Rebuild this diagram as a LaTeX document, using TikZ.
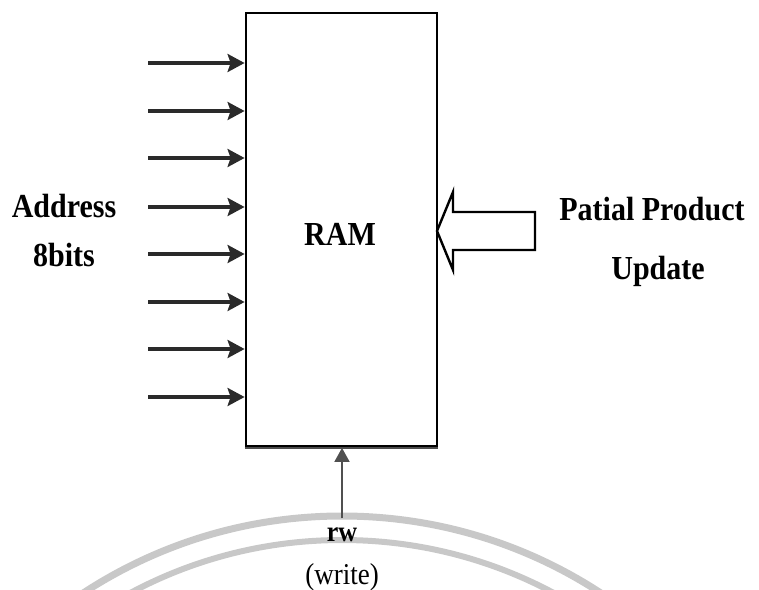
\documentclass[tikz,border=0pt]{standalone}
\usepackage{fontspec}
\setmainfont{Liberation Serif}
\usepackage{graphicx}
\usetikzlibrary{arrows.meta}
\definecolor{arrowgray}{HTML}{2A2A2A}
\definecolor{rwgray}{HTML}{505050}
\definecolor{watergray}{HTML}{C8C8C8}
\newcommand{\tallish}[1]{\scalebox{1}[1.12]{#1}}
\tikzset{
  addr/.style={line width=3.2pt, draw=arrowgray, -{Stealth[length=17pt,width=18pt,inset=3pt]}},
  rwarrow/.style={line width=1.8pt, draw=rwgray, -{Triangle[length=14pt,width=15pt]}},
  lbl/.style={font=\bfseries\fontsize{30}{34}\selectfont, inner sep=0pt},
  water/.style={draw=watergray, line width=7pt},
  hollow/.style={draw=black, line width=2.4pt, fill=white, line join=miter}
}
\begin{document}
\begin{tikzpicture}[x=1pt,y=-1pt]
\useasboundingbox (0,0) rectangle (759,589);
% watermark arcs
\begin{scope}
  \clip (0,0) rectangle (759,589);
  \draw[water] (342,989) circle[radius=473pt];
  \draw[water, line width=6pt] (342,989) circle[radius=449pt];
\end{scope}
% RAM box
\node[draw=black, line width=2.8pt, minimum width=191pt, minimum height=433.5pt, inner sep=0pt] (ram) at (341.5,229.75) {};
\draw[line width=2.8pt, draw=black!70] (ram.south west) -- (ram.south east);
\node[lbl, anchor=base] (ramlbl) at (340,245) {\tallish{RAM}};
% address arrows
\foreach \i/\yy in {1/63,2/111,3/158,4/207,5/254,6/302,7/349,8/397}{
  \coordinate (s\i) at (148,\yy);
  \draw[addr] (s\i) -- (s\i -| ram.west);
}
\node[lbl, anchor=base] (addr) at (64,217) {\tallish{Address}};
\node[lbl, anchor=base] (bits) at (64,266) {\tallish{8bits}};
% hollow arrow
\coordinate (tip) at (437,231);
\draw[hollow] (tip) -- ++(16,-39) -- ++(0,20) -- ++(82,0) -- ++(0,38) -- ++(-82,0) -- ++(0,20) -- cycle;
\node[lbl, anchor=base] (pp) at (652,220) {\tallish{Patial Product}};
\node[lbl, anchor=base] (upd) at (658,279) {\tallish{Update}};
% rw arrow
\coordinate (rwtail) at (342,518);
\draw[rwarrow] (rwtail) -- (rwtail |- ram.south);
\node[font=\bfseries\fontsize{26}{30}\selectfont, inner sep=0pt, anchor=base] (rw) at (342,541) {\tallish{rw}};
\node[font=\fontsize{27}{30}\selectfont, inner sep=0pt, anchor=base] (write) at (342,584) {\tallish{(write)}};
\end{tikzpicture}
\end{document}
